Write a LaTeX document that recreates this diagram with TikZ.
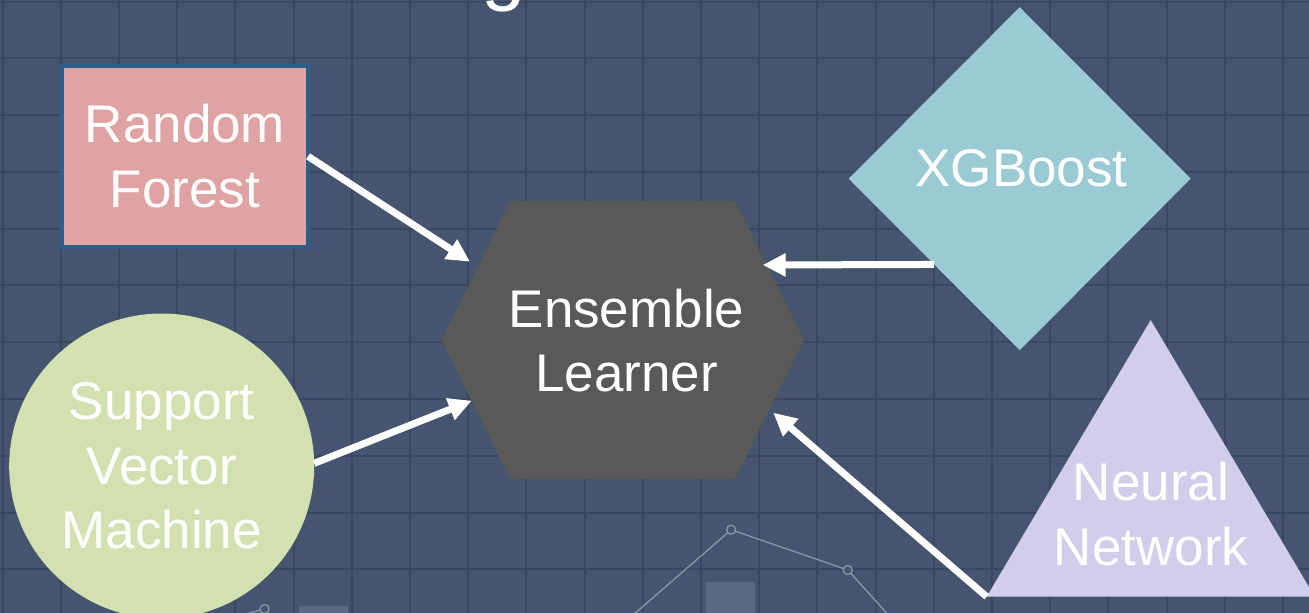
\documentclass[tikz,border=0pt]{standalone}
\usepackage{fontspec}
\setmainfont{Liberation Sans}
\usetikzlibrary{arrows.meta,shapes.geometric}

\definecolor{bg}{HTML}{45546F}
\definecolor{gridc}{HTML}{3A4760}
\definecolor{rffill}{HTML}{DFA3A3}
\definecolor{rfborder}{HTML}{2C5F8C}
\definecolor{hexfill}{HTML}{595959}
\definecolor{svmfill}{HTML}{D3E1B1}
\definecolor{xgbfill}{HTML}{9ACAD4}
\definecolor{nnfill}{HTML}{D1CDEB}
\definecolor{chartline}{HTML}{8C95A8}
\definecolor{chartbar}{HTML}{5A6884}

\tikzset{
  gridline/.style={draw=gridc, line width=2pt},
  chart/.style={draw=chartline, line width=1.3pt},
  chartdot/.style={draw=chartline, fill=bg, line width=1.3pt},
  chartbar/.style={fill=chartbar},
  lbl/.style={text=white, align=center, font=\fontsize{53}{64.5}\selectfont},
  conn/.style={draw=white, line width=7pt, -{Triangle[length=23pt,width=22pt]}},
}

\begin{document}
\begin{tikzpicture}[x=1pt,y=-1pt]
\useasboundingbox (0,0) rectangle (1309,613);
\clip (0,0) rectangle (1309,613);

% background and grid
\fill[bg] (0,0) rectangle (1309,613);
\foreach \i in {0,...,22}
  \draw[gridline] ({2.5+58.2*\i},0) -- ({2.5+58.2*\i},613);
\foreach \j in {0,...,10}
  \draw[gridline] (0,{1.5+56.78*\j}) -- (1309,{1.5+56.78*\j});

% title, mostly above the frame
\node[anchor=base, text=white, font=\fontsize{80}{80}\selectfont, inner sep=0pt] (title) at (504,-4.5) {g};

% faint chart in the background
\fill[chartbar] (299,606) rectangle (348,625);
\fill[chartbar] (706,582) rectangle (755,625);
\draw[chart] (203,625) -- (264.6,609);
\draw[chart] (621.6,625) -- (731.1,529.7) -- (847.8,570) -- (897.4,625);
\draw[chartdot] (264.6,609) circle (4.5);
\draw[chartdot] (731.1,529.7) circle (4.5);
\draw[chartdot] (847.8,570) circle (4.5);

% Random Forest
\node[lbl, draw=rfborder, line width=4pt, fill=rffill, minimum width=246pt, minimum height=180.7pt, outer sep=0pt]
  (rf) at (185,156.3) {Random\\Forest};

% Ensemble Learner hexagon
\coordinate (hx-w)  at (441.7,340);
\coordinate (hx-nw) at (510,201);
\coordinate (hx-ne) at (735,201);
\coordinate (hx-e)  at (804,340);
\coordinate (hx-se) at (735,479);
\coordinate (hx-sw) at (510,479);
\fill[hexfill] (hx-w) -- (hx-nw) -- (hx-ne) -- (hx-e) -- (hx-se) -- (hx-sw) -- cycle;
\node[lbl] (el) at (626.5,340.6) {Ensemble\\Learner};

% Support Vector Machine
\node[lbl, circle, fill=svmfill, minimum size=305pt, inner sep=0pt, outer sep=0pt]
  (svm) at (161.7,466) {Support\\Vector\\Machine};

% XGBoost
\node[diamond, fill=xgbfill, minimum width=342pt, minimum height=343pt, inner sep=0pt, outer sep=0pt,
  label={[lbl, xshift=1.8pt, yshift=10pt]center:XGBoost}]
  (xgb) at (1019.7,178.7) {};

% Neural Network
\coordinate (nn-top)   at (1150.7,320);
\coordinate (nn-left)  at (986.7,596.7);
\coordinate (nn-right) at (1314.7,596.7);
\fill[nnfill] (nn-top) -- (nn-left) -- (nn-right) -- cycle;
\node[lbl] (nn) at (1151,513.9) {Neural\\Network};

% arrow tips on the hexagon
\coordinate (el-rf)  at (470,261.7);
\coordinate (el-xgb) at (762.7,265);
\coordinate (el-svm) at (471.7,400.7);
\coordinate (el-nn)  at (773.3,412.7);

% connectors
\draw[conn] (rf.east) -- (el-rf);
\draw[conn] (xgb.south west) -- (el-xgb);
\draw[conn] (svm.1) -- (el-svm);
\draw[conn] (nn-left) -- (el-nn);
\end{tikzpicture}
\end{document}
